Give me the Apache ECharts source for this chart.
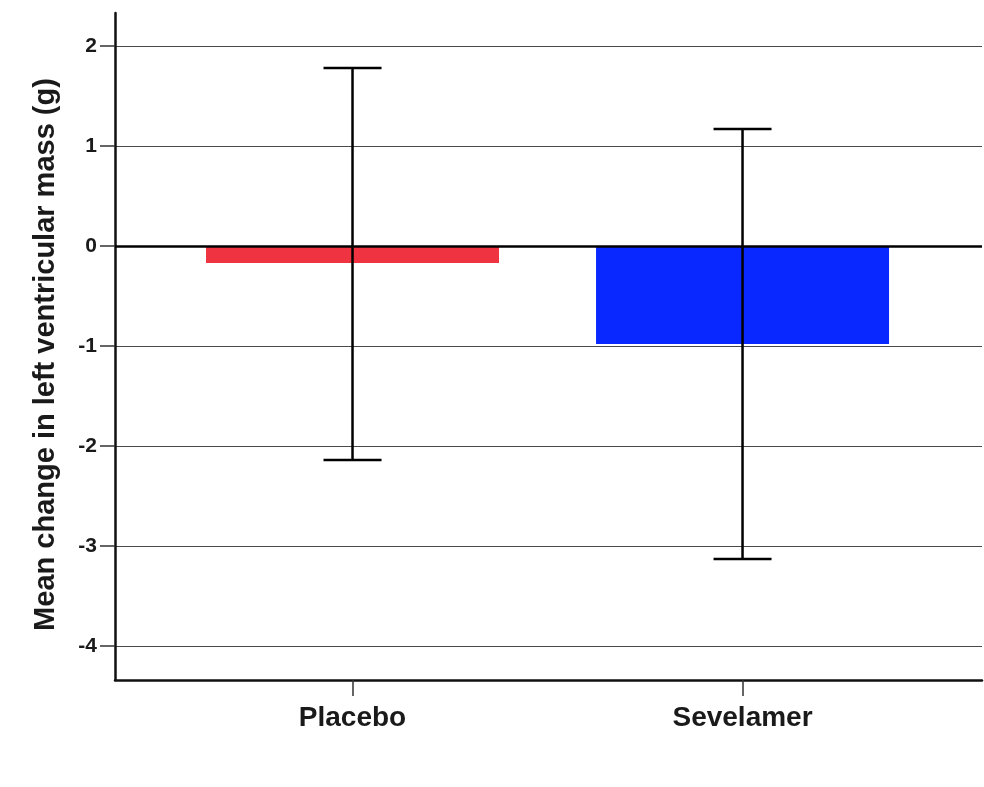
<!DOCTYPE html>
<html>
<head>
<meta charset="utf-8">
<script src="https://cdn.jsdelivr.net/npm/echarts@6/dist/echarts.min.js"></script>
<style>
  html, body { margin: 0; padding: 0; background: #ffffff; }
  #chart { width: 984px; height: 787px; }
</style>
</head>
<body>
<div id="chart"></div>
<script>
// Treatment groups and their mean change in LV mass with 95% CI bounds (g)
const categories = ['Placebo', 'Sevelamer'];
const means = [-0.17, -0.98];
const ciLower = [-2.14, -3.13];
const ciUpper = [1.78, 1.17];
const barColors = ['#ef3340', '#0828ff'];
const yTicks = [-4, -3, -2, -1, 0, 1, 2];

const FONT = '"Liberation Sans", Arial, Helvetica, sans-serif';

const chart = echarts.init(document.getElementById('chart'), null, { renderer: 'canvas' });

const barData = categories.map((c, i) => ({
  value: [i, means[i]],
  itemStyle: { color: barColors[i] }
}));
const errData = categories.map((c, i) => [i, ciLower[i], ciUpper[i]]);

chart.setOption({
  backgroundColor: '#ffffff',
  animation: false,
  grid: { left: 115, right: 2, top: 13, bottom: 107 },
  xAxis: {
    type: 'value',
    min: -0.609,
    max: 1.614,
    axisLine: { show: true, onZero: false, lineStyle: { color: '#111', width: 2.5 } },
    axisTick: { show: true, customValues: [0, 1], length: 16, lineStyle: { color: '#333', width: 1.5 } },
    axisLabel: {
      customValues: [0, 1],
      formatter: v => categories[Math.round(v)],
      margin: 24,
      fontFamily: FONT,
      fontWeight: 'bold',
      fontSize: 28,
      color: '#1a1a1a'
    },
    splitLine: { show: false }
  },
  yAxis: {
    type: 'value',
    min: -4.34,
    max: 2.33,
    name: 'Mean change in left ventricular mass (g)',
    nameLocation: 'middle',
    nameGap: 55,
    nameTextStyle: {
      fontFamily: FONT, fontWeight: 'bold', fontSize: 29, color: '#1a1a1a',
      padding: [0, 16, 0, 0]
    },
    axisLine: { show: true, onZero: false, lineStyle: { color: '#111', width: 2.5 } },
    axisTick: { show: true, customValues: yTicks, length: 15, lineStyle: { color: '#333', width: 1.5 } },
    axisLabel: {
      customValues: yTicks,
      margin: 18,
      fontFamily: FONT,
      fontWeight: 'bold',
      fontSize: 21,
      color: '#1a1a1a'
    },
    splitLine: { show: true, lineStyle: { color: '#4a4a4a', width: 1.2 } }
  },
  series: [
    {
      type: 'bar',
      data: barData,
      barWidth: 293,
      z: 2,
      markLine: {
        silent: true,
        symbol: 'none',
        label: { show: false },
        lineStyle: { color: '#000', width: 2.5, type: 'solid' },
        data: [{ yAxis: 0 }]
      }
    },
    {
      type: 'custom',
      z: 5,
      data: errData,
      renderItem: function (params, api) {
        const x = api.value(0);
        const lo = api.coord([x, api.value(1)]);
        const hi = api.coord([x, api.value(2)]);
        const half = 29;
        const style = { stroke: '#000', lineWidth: 2.5 };
        return {
          type: 'group',
          children: [
            { type: 'line', shape: { x1: lo[0], y1: lo[1], x2: hi[0], y2: hi[1] }, style },
            { type: 'line', shape: { x1: hi[0] - half, y1: hi[1], x2: hi[0] + half, y2: hi[1] }, style },
            { type: 'line', shape: { x1: lo[0] - half, y1: lo[1], x2: lo[0] + half, y2: lo[1] }, style }
          ]
        };
      }
    }
  ]
});
</script>
</body>
</html>
